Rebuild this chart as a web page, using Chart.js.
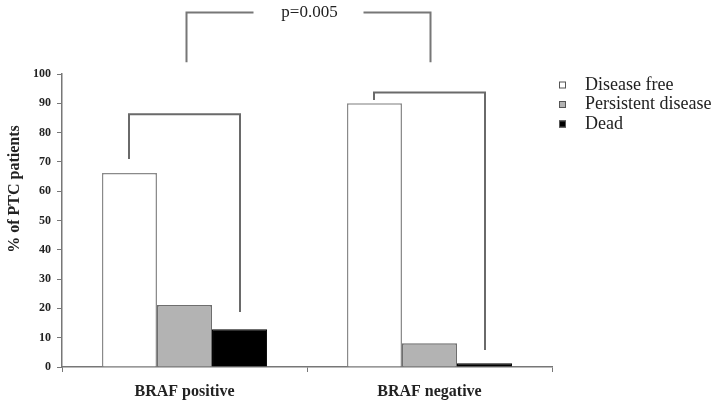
<!DOCTYPE html>
<html lang="en">
<head>
    <meta charset="UTF-8">
    <title>BRAF outcome chart</title>
    <script src="https://cdn.jsdelivr.net/npm/chart.js"></script>
    <style>
        html, body { margin: 0; padding: 0; background: #fff; }
        #wrap { width: 713px; height: 402px; }
    </style>
</head>
<body>
    <div id="wrap"><canvas id="outcomeChart"></canvas></div>

    <script>
        const categories = ['BRAF positive', 'BRAF negative'];
        const diseaseFree = [66.2, 90.0];
        const persistentDisease = [21.2, 8.1];
        const dead = [12.9, 1.3];

        // bracket heights (in % units) for each group: from disease free bar to dead bar
        const bracketStart = [71, 91.1];
        const bracketTop = [86.3, 93.7];
        const bracketEnd = [18.8, 5.8];
        // the p-value bracket across both groups
        const pBracketBottom = 104;
        const pBracketTop = 121;
        const pLabel = 'p=0.005';

        const serif = "'Liberation Serif', 'Times New Roman', serif";

        const annotations = {
            id: 'annotations',
            afterDraw(chart) {
                const ctx = chart.ctx;
                const y = chart.scales.y;
                const x = chart.scales.x;
                const whiteMeta = chart.getDatasetMeta(0);
                const blackMeta = chart.getDatasetMeta(2);
                ctx.save();

                // group brackets
                ctx.strokeStyle = '#6a6a6a';
                ctx.lineWidth = 2;
                categories.forEach((c, i) => {
                    const x1 = Math.round(whiteMeta.data[i].x);
                    const x2 = Math.round(blackMeta.data[i].x);
                    ctx.beginPath();
                    ctx.moveTo(x1, y.getPixelForValue(bracketStart[i]));
                    ctx.lineTo(x1, y.getPixelForValue(bracketTop[i]));
                    ctx.lineTo(x2, y.getPixelForValue(bracketTop[i]));
                    ctx.lineTo(x2, y.getPixelForValue(bracketEnd[i]));
                    ctx.stroke();
                });

                // p-value bracket
                const px1 = x.getPixelForValue(0) + 2;
                const px2 = x.getPixelForValue(1) + 1;
                const pyTop = y.getPixelForValue(pBracketTop);
                const pyBottom = y.getPixelForValue(pBracketBottom);
                ctx.font = '17px ' + serif;
                const tw = ctx.measureText(pLabel).width;
                const mid = (px1 + px2) / 2;
                const gap = 55;
                ctx.strokeStyle = '#777';
                ctx.beginPath();
                ctx.moveTo(px1, pyBottom);
                ctx.lineTo(px1, pyTop);
                ctx.lineTo(mid - gap, pyTop);
                ctx.moveTo(mid + gap, pyTop);
                ctx.lineTo(px2, pyTop);
                ctx.lineTo(px2, pyBottom);
                ctx.stroke();
                ctx.fillStyle = '#222';
                ctx.textAlign = 'center';
                ctx.textBaseline = 'middle';
                ctx.fillText(pLabel, mid + 1, pyTop);

                // y axis title
                ctx.save();
                ctx.translate(15, 189);
                ctx.rotate(-Math.PI / 2);
                ctx.font = 'bold 16px ' + serif;
                ctx.fillStyle = '#222';
                ctx.fillText('% of PTC patients', 0, 0);
                ctx.restore();

                // legend
                const lx = chart.chartArea.right + 7;
                chart.data.datasets.forEach((ds, i) => {
                    const ly = 85 + i * 19.5;
                    ctx.fillStyle = ds.backgroundColor;
                    ctx.fillRect(lx, ly - 3.5, 7, 7);
                    ctx.strokeStyle = '#555';
                    ctx.lineWidth = 1;
                    ctx.strokeRect(lx + 0.5, ly - 3, 6, 6);
                    ctx.fillStyle = '#222';
                    ctx.textAlign = 'left';
                    ctx.font = '18px ' + serif;
                    ctx.fillText(ds.label, lx + 26, ly);
                });
                ctx.restore();
            }
        };

        const chartConfig = {
            type: 'bar',
            data: {
                labels: categories,
                datasets: [
                    {
                        label: 'Disease free',
                        data: diseaseFree,
                        backgroundColor: '#ffffff',
                        borderColor: '#8a8a8a',
                        borderWidth: 1.5,
                    },
                    {
                        label: 'Persistent disease',
                        data: persistentDisease,
                        backgroundColor: '#b3b3b3',
                        borderColor: '#6e6e6e',
                        borderWidth: 1.5,
                    },
                    {
                        label: 'Dead',
                        data: dead,
                        backgroundColor: '#000000',
                        borderColor: '#000000',
                        borderWidth: 1,
                    },
                ],
            },
            options: {
                responsive: true,
                maintainAspectRatio: false,
                animation: false,
                categoryPercentage: 0.674,
                barPercentage: 1.0,
                layout: {
                    padding: { top: 74, right: 161, left: 0, bottom: 0 },
                },
                plugins: {
                    legend: { display: false },
                    tooltip: { enabled: false },
                },
                scales: {
                    x: {
                        afterFit(scale) { scale.height = 35; },
                        grid: {
                            display: true,
                            drawOnChartArea: false,
                            offset: true,
                            tickLength: 5,
                            tickColor: '#777',
                        },
                        border: { color: '#777', width: 1.5 },
                        ticks: {
                            padding: 10,
                            color: '#222',
                            font: { family: serif, size: 16, weight: 'bold' },
                        },
                    },
                    y: {
                        min: 0,
                        max: 100,
                        afterFit(scale) { scale.width = 62; },
                        grid: {
                            display: true,
                            drawOnChartArea: false,
                            tickLength: 5,
                            tickColor: '#777',
                        },
                        border: { color: '#777', width: 1.5 },
                        ticks: {
                            stepSize: 10,
                            padding: 6,
                            color: '#222',
                            font: { family: serif, size: 12, weight: 'bold' },
                        },
                    },
                },
            },
            plugins: [annotations],
        };

        const outcomeChart = new Chart(document.getElementById('outcomeChart'), chartConfig);
    </script>
</body>
</html>
